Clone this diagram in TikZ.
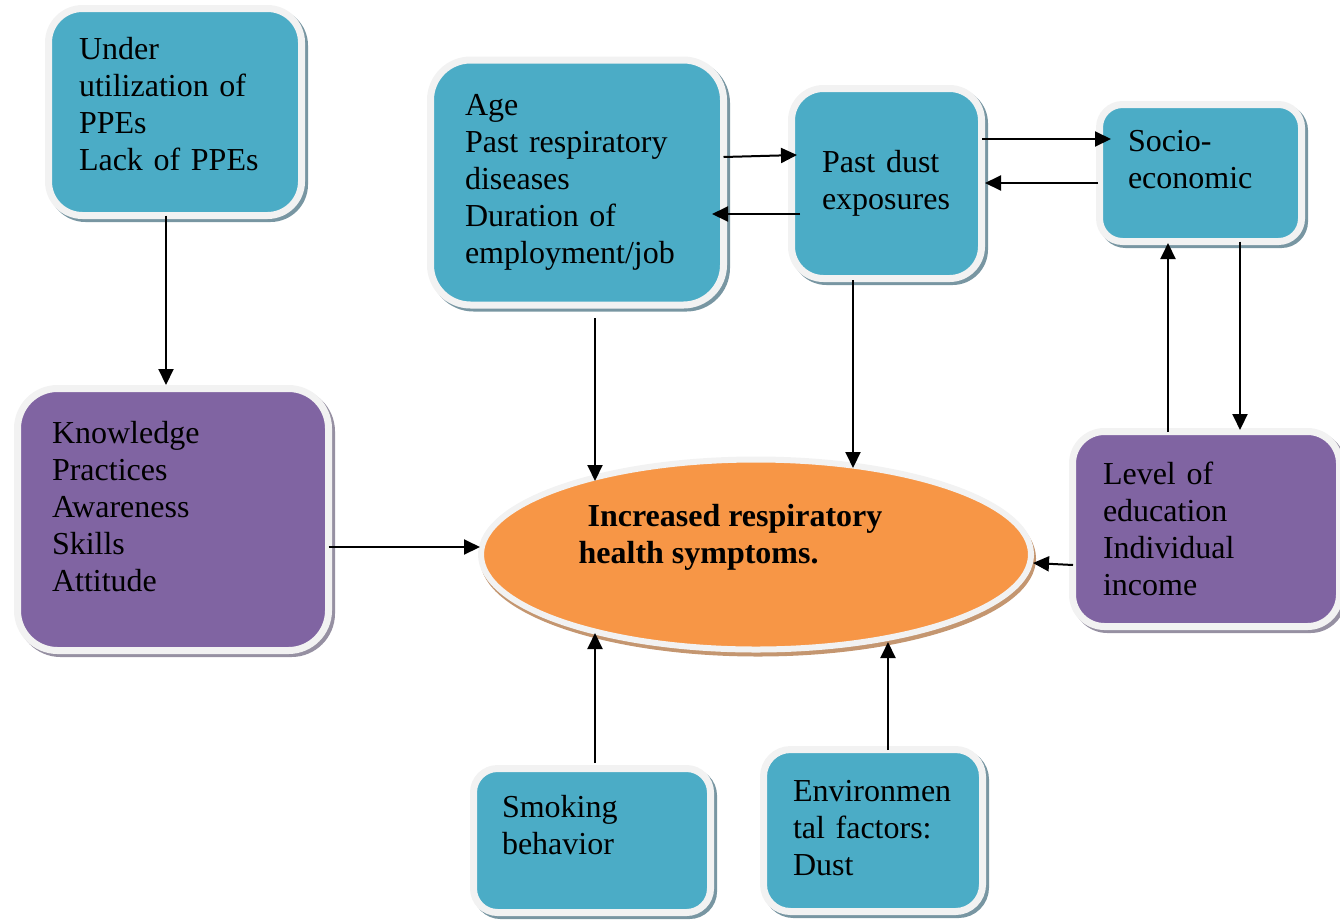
\documentclass[tikz,border=0pt]{standalone}
\usepackage{fontspec}
\setmainfont{Liberation Serif}
\usetikzlibrary{calc,shadows,arrows.meta,shapes.geometric}
\hyphenpenalty=10000
\exhyphenpenalty=10000

\definecolor{aqua}{RGB}{75,172,198}
\definecolor{lilac}{RGB}{128,100,162}
\definecolor{tangerine}{RGB}{247,150,70}
\definecolor{rim}{RGB}{242,242,242}
\definecolor{aquashade}{RGB}{120,150,162}
\definecolor{lilacshade}{RGB}{150,144,162}
\definecolor{tanshade}{RGB}{196,150,112}

\tikzset{
  box/.style={rectangle, draw=rim, line width=7pt, inner sep=0pt, outer sep=0pt,
    align=left, text=black, font=\fontsize{32}{37}\selectfont},
  aquabox/.style={box, fill=aqua,
    drop shadow={shadow xshift=3pt, shadow yshift=-3pt, fill=aquashade, draw=aquashade, opacity=1}},
  lilacbox/.style={box, fill=lilac,
    drop shadow={shadow xshift=3pt, shadow yshift=-3pt, fill=lilacshade, draw=lilacshade, opacity=1}},
  outcome/.style={ellipse, draw=rim, line width=6pt, fill=tangerine, inner sep=0pt, outer sep=0pt,
    align=left, text=black, font=\fontsize{32}{37}\selectfont\bfseries,
    drop shadow={shadow xshift=2pt, shadow yshift=-4pt, fill=tanshade, draw=tanshade, opacity=1}},
  arr/.style={-{Triangle[length=16pt,width=15pt]}, line width=2pt, draw=black}
}

\begin{document}
\begin{tikzpicture}[x=1pt,y=1pt,yscale=-1,xscale=1]
\useasboundingbox (0,0) rectangle (1340,919);
%Rounded Rect: causes
\node[aquabox, rounded corners=34pt, minimum width=253pt, minimum height=207pt, text width=192pt] (ppe) at (175,112) {Under\\utilization of\\PPEs\\Lack of PPEs\rule[-16pt]{0pt}{16pt}};
\node[aquabox, rounded corners=40pt, minimum width=293pt, minimum height=245pt, text width=224pt] (age) at (577,182.5) {Age\\Past respiratory\\diseases\\Duration of\\employment/job};
\node[aquabox, rounded corners=32pt, minimum width=190pt, minimum height=190pt, text width=129pt] (dust) at (886.5,183.5) {Past dust\\exposures};
\node[aquabox, rounded corners=23pt, minimum width=202pt, minimum height=137pt, text width=145pt] (socio) at (1200.5,173) {Socio-\\economic\rule[-27pt]{0pt}{27pt}};
\node[lilacbox, rounded corners=40pt, minimum width=311pt, minimum height=262pt, text width=242pt] (know) at (173,519.5) {Knowledge\\Practices\\Awareness\\Skills\\Attitude\rule[-27pt]{0pt}{27pt}};
\node[lilacbox, rounded corners=32pt, minimum width=267pt, minimum height=195pt, text width=206pt] (educ) at (1206,529) {Level of\\education\\Individual\\income};
\node[aquabox, rounded corners=24pt, minimum width=237pt, minimum height=144pt, text width=180pt] (smoke) at (592,840.5) {Smoking\\behavior\rule[-32pt]{0pt}{32pt}};
\node[aquabox, rounded corners=27pt, minimum width=219pt, minimum height=162pt, text width=160pt] (envir) at (873,830.5) {Environmen\\tal factors:\\Dust\rule[-6pt]{0pt}{6pt}};
%Ellipse: outcome
\node[outcome, minimum width=550pt, minimum height=190pt] (resp) at (756,554.5) {\hspace*{9pt}Increased respiratory\hspace*{51pt}\\health symptoms.\rule[-42pt]{0pt}{42pt}};
%Straight Lines
\draw[arr] ($(ppe.south)+(-9,0)$) -- ($(know.north)+(-7,-3.5)$);
\draw[arr] ($(age.east)+(0,-25.5)$) -- ($(dust.west)+(5.5,-28.5)$);
\draw[arr] ($(dust.west)+(8.5,30.5)$) -- ($(age.east)+(-11.5,31.5)$);
\draw[arr] ($(dust.east)+(0.5,-44.5)$) -- ($(socio.west)+(11.5,-34)$);
\draw[arr] ($(socio.west)+(-1.5,10)$) -- ($(dust.east)+(3.5,-0.5)$);
\draw[arr] ($(educ.north)+(-38,0.5)$) -- ($(socio.south)+(-32.5,1.5)$);
\draw[arr] ($(socio.south)+(39.5,0)$) -- ($(educ.north)+(34,-1.5)$);
\draw[arr] ($(know.east)+(0,27.5)$) -- ($(resp.center)+(-276,-7.5)$);
\draw[arr] ($(educ.west)+(0.5,36)$) -- ($(resp.center)+(277,8.5)$);
\draw[arr] ($(age.south)+(18,13)$) -- ($(resp.center)+(-161,-73.5)$);
\draw[arr] ($(dust.south)+(-33.5,1.5)$) -- ($(resp.center)+(97,-86.5)$);
\draw[arr] ($(smoke.north)+(3,-5.5)$) -- ($(resp.center)+(-161,78.5)$);
\draw[arr] ($(envir.north)+(15,0.5)$) -- ($(resp.center)+(132,87.5)$);
\end{tikzpicture}
\end{document}
